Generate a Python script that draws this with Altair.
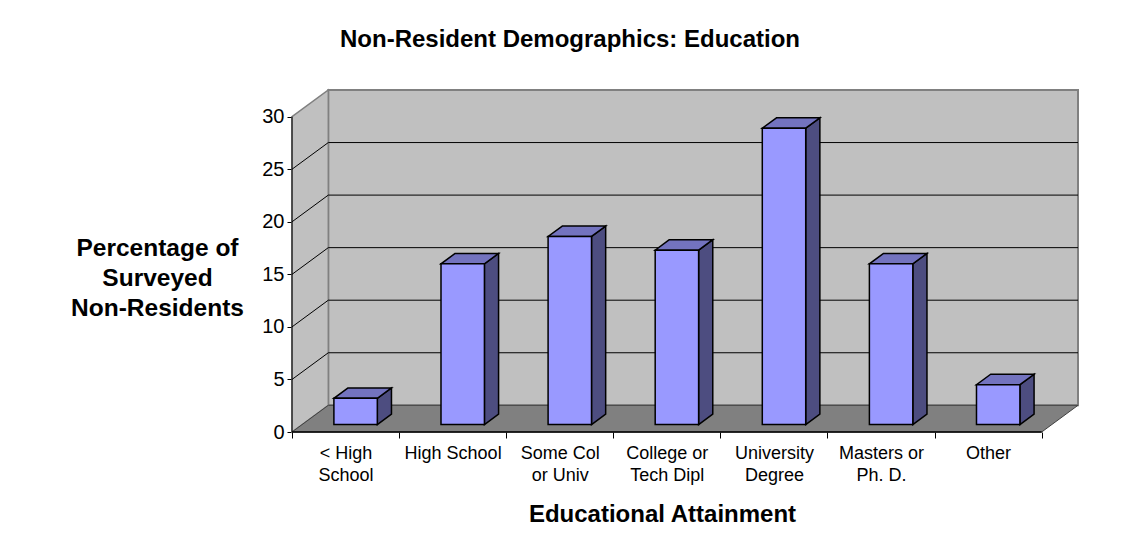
import json
import altair as alt
import pandas as pd

# ---------------- data ----------------
categories = ["< High School", "High School", "Some Col or Univ", "College or Tech Dipl",
              "University Degree", "Masters or Ph. D.", "Other"]
label_lines = [["< High", "School"], ["High School"], ["Some Col", "or Univ"],
               ["College or", "Tech Dipl"], ["University", "Degree"], ["Masters or", "Ph. D."], ["Other"]]
values = [2.5, 15.3, 17.9, 16.6, 28.2, 15.3, 3.8]
y_ticks = [0, 5, 10, 15, 20, 25, 30]

chart_title = "Non-Resident Demographics: Education"
x_title = "Educational Attainment"
y_title = ["Percentage of", "Surveyed", "Non-Residents"]

# ---------------- 3D styling (in axis units) ----------------
N = len(categories)
YMAX = 30
DX = 0.339          # depth shift along x (category widths)
DY = 2.54           # depth shift along y (value units)
F0, F1 = 0.277, 0.667  # bar front / back depth fraction
HALF = 0.2027       # half bar width (category widths)
FONT = "Liberation Sans"

front_rows, side_rows, top_rows = [], [], []
sx, sy = (F1 - F0) * DX, (F1 - F0) * DY
for i, (c, v) in enumerate(zip(categories, values)):
    xl = i + 0.5 - HALF + F0 * DX
    xr = i + 0.5 + HALF + F0 * DX
    y0 = F0 * DY
    front_rows.append(dict(cat=c, x=xl, x2=xr, y=y0, y2=y0 + v))
    side_rows += [dict(cat=c, x=xr, y=y0, y2=y0 + v),
                  dict(cat=c, x=xr + sx, y=y0 + sy, y2=y0 + sy + v)]
    top_rows += [dict(cat=c, y=y0 + v, x=xl, x2=xr),
                 dict(cat=c, y=y0 + v + sy, x=xl + sx, x2=xr + sx)]

front_df = pd.DataFrame(front_rows)
side_df = pd.DataFrame(side_rows)
top_df = pd.DataFrame(top_rows)

back_df = pd.DataFrame([dict(x=DX, x2=N + DX, y=DY, y2=YMAX + DY)])
left_df = pd.DataFrame([dict(x=0, y=0, y2=YMAX), dict(x=DX, y=DY, y2=YMAX + DY)])
floor_df = pd.DataFrame([dict(y=0, x=0, x2=N), dict(y=DY, x=DX, x2=N + DX)])
grid_back_df = pd.DataFrame([dict(x=DX, x2=N + DX, y=DY + t) for t in y_ticks[1:-1]])
grid_left_df = pd.DataFrame([dict(k=t, x=0, y=t) for t in y_ticks[1:-1]] +
                            [dict(k=t, x=DX, y=t + DY) for t in y_ticks[1:-1]])
yline_df = pd.DataFrame([dict(x=0, y=0, y2=YMAX)])
xline_df = pd.DataFrame([dict(x=0, x2=N, y=0)])

xs = alt.Scale(domain=[0, N + DX], nice=False, zero=False)
ys = alt.Scale(domain=[0, YMAX + DY], nice=False, zero=False)

label_expr = json.dumps(label_lines) + "[datum.value] || ''"

x_axis = alt.Axis(
    values=list(range(N + 1)), domain=False, grid=False,
    tickSize=6, tickColor="black", tickWidth=1,
    labelExpr=label_expr, labelOffset=53.5, labelOverlap=False, labelBound=False,
    labelFlush=False, labelAlign="center", labelBaseline="top",
    labelFont=FONT, labelFontSize=18, labelLineHeight=22, labelPadding=6, labelColor="black",
    title=x_title, titleFont=FONT, titleFontSize=24, titleFontWeight="bold", titleColor="black",
    titleX=370, titleY=89, titleAlign="center", titleBaseline="alphabetic",
)
y_axis = alt.Axis(
    values=y_ticks, domain=False, grid=False,
    tickSize=5, tickColor="black", tickWidth=1,
    labelFont=FONT, labelFontSize=20, labelPadding=3, labelColor="black",
    title=y_title, titleFont=FONT, titleFontSize=24.5, titleFontWeight="bold", titleColor="black",
    titleAngle=0, titleAlign="center", titleBaseline="middle", titleLineHeight=30,
    titleX=-135, titleY=158,
)

def X(f="x"):
    return alt.X(f"{f}:Q", scale=xs, axis=x_axis)

def Y(f="y"):
    return alt.Y(f"{f}:Q", scale=ys, axis=y_axis)

back = alt.Chart(back_df).mark_rect(fill="#C0C0C0", stroke="#808080", strokeWidth=2).encode(
    x=X(), x2="x2:Q", y=Y(), y2="y2:Q")
left = alt.Chart(left_df).mark_area(fill="#C0C0C0", stroke="#808080", strokeWidth=1.5).encode(
    x=X(), y=Y(), y2="y2:Q")
floor = alt.Chart(floor_df).mark_area(orient="horizontal", fill="#808080", stroke="#404040",
                                      strokeWidth=1).encode(y=Y(), x=X(), x2="x2:Q")
grid_back = alt.Chart(grid_back_df).mark_rule(color="black", strokeWidth=1).encode(
    x=X(), x2="x2:Q", y=Y())
grid_left = alt.Chart(grid_left_df).mark_line(color="black", strokeWidth=1).encode(
    x=X(), y=Y(), detail="k:N")
yline = alt.Chart(yline_df).mark_rule(color="black", strokeWidth=1).encode(x=X(), y=Y(), y2="y2:Q")
xline = alt.Chart(xline_df).mark_rule(color="black", strokeWidth=1.5).encode(x=X(), x2="x2:Q", y=Y())

bar_front = alt.Chart(front_df).mark_rect(fill="#9999FF", stroke="black", strokeWidth=1.5).encode(
    x=X(), x2="x2:Q", y=Y(), y2="y2:Q")
bar_side = alt.Chart(side_df).mark_area(fill="#4D4D80", stroke="black", strokeWidth=1.5).encode(
    x=X(), y=Y(), y2="y2:Q", detail="cat:N")
bar_top = alt.Chart(top_df).mark_area(orient="horizontal", fill="#7373BF", stroke="black",
                                      strokeWidth=1.5).encode(
    y=Y(), x=X(), x2="x2:Q", detail="cat:N")

chart = alt.layer(
    back, left, floor, grid_back, grid_left, yline, xline, bar_side, bar_top, bar_front
).properties(
    width=786, height=342,
    autosize=alt.AutoSizeParams(type="none"),
    padding={"left": 284, "top": 82, "right": 40, "bottom": 110},
    background="white",
    title=alt.TitleParams(chart_title, font=FONT, fontSize=24, fontWeight="bold", color="black",
                          anchor="middle", dx=-115, offset=35),
).configure_view(stroke=None)

chart.save("out.html", embed_options={"renderer": "svg", "actions": False})
